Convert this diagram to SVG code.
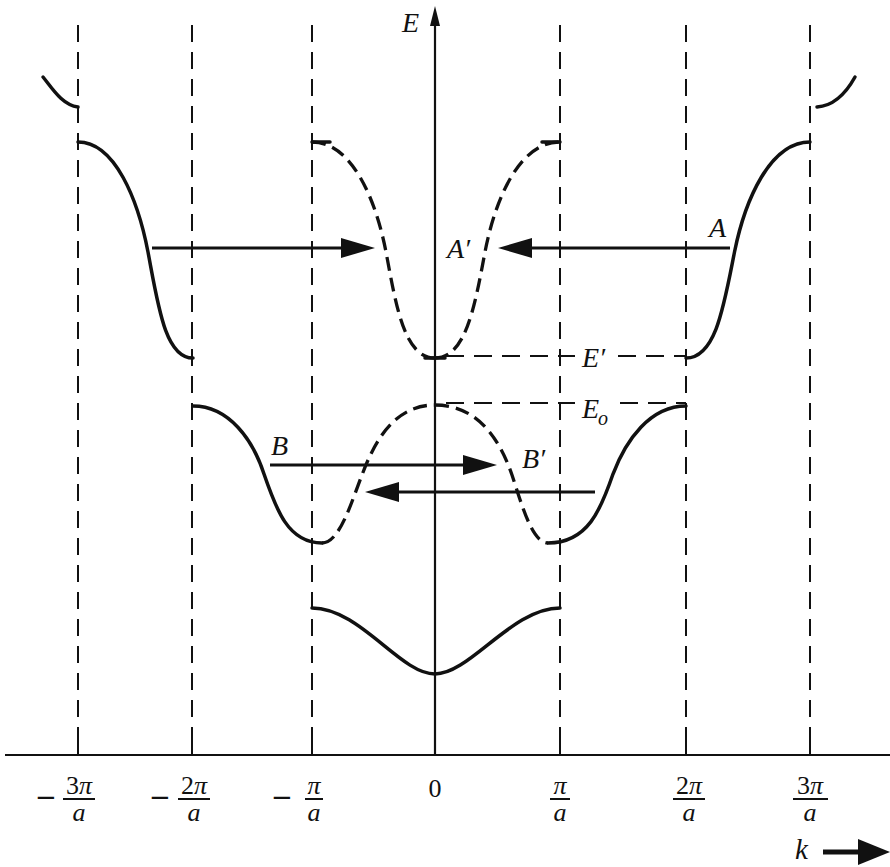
<svg xmlns="http://www.w3.org/2000/svg" width="890" height="867" viewBox="0 0 890 867">
<style>
  .grid { fill: none; stroke: #111; stroke-width: 2; stroke-dasharray: 17 10; }
  .tick { stroke: #111; stroke-width: 2; }
  .axis { stroke: #111; stroke-width: 2.2; fill: none; }
  .band { fill: none; stroke: #111; stroke-width: 3.5; stroke-linecap: round; }
  .bandd { fill: none; stroke: #111; stroke-width: 3.3; stroke-dasharray: 14 7; }
  .level { fill: none; stroke: #111; stroke-width: 2; stroke-dasharray: 18 10; }
  .arr { fill: none; stroke: #111; stroke-width: 3; }
  .lbl { font-family: "Liberation Serif", "DejaVu Serif", serif; font-style: italic; font-size: 28px; fill: #111; }
  .num { font-family: "Liberation Serif", "DejaVu Serif", serif; font-size: 26px; fill: #111; }
  .minus { font-family: "DejaVu Sans", "Liberation Sans", sans-serif; font-size: 26px; fill: #111; }
  .it { font-style: italic; }
  .bar { stroke: #111; stroke-width: 2; }
</style>
<defs>
  <marker id="head" viewBox="0 0 34 20" refX="24" refY="10" markerWidth="34" markerHeight="20" markerUnits="userSpaceOnUse" orient="auto">
    <path d="M0,0 L34,10 L0,20 Z" fill="#111"/>
  </marker>
</defs>
<rect width="890" height="867" fill="#ffffff"/>

<g id="grid">
  <line class="grid" x1="78" y1="25" x2="78" y2="745"/>
  <line class="grid" x1="192" y1="25" x2="192" y2="745"/>
  <line class="grid" x1="312" y1="25" x2="312" y2="745"/>
  <line class="grid" x1="560" y1="25" x2="560" y2="745"/>
  <line class="grid" x1="686" y1="25" x2="686" y2="745"/>
  <line class="grid" x1="810" y1="25" x2="810" y2="745"/>
</g>

<g id="axes">
  <line class="axis" x1="5" y1="755" x2="890" y2="755"/>
  <line class="axis" x1="435" y1="755" x2="435" y2="22"/>
  <path d="M430,26 L435,6 L440,26 Z" fill="#111"/>
  <line class="tick" x1="78" y1="744" x2="78" y2="755"/>
  <line class="tick" x1="192" y1="744" x2="192" y2="755"/>
  <line class="tick" x1="312" y1="744" x2="312" y2="755"/>
  <line class="tick" x1="560" y1="744" x2="560" y2="755"/>
  <line class="tick" x1="686" y1="744" x2="686" y2="755"/>
  <line class="tick" x1="810" y1="744" x2="810" y2="755"/>
  <line x1="823" y1="852" x2="862" y2="852" stroke="#111" stroke-width="5"/>
  <path d="M858,839 L890,852 L858,865 Z" fill="#111"/>
</g>

<g id="band4">
  <path class="band" d="M43,77 C52,88 62,105 78,107"/>
  <path class="band" d="M817,107 C832,106 845,95 855,77"/>
</g>

<g id="band3">
  <path class="band" d="M78,142 C115,142 138,200 148,252 C158,305 165,358 193,358"/>
  <path class="band" d="M686,358 C716,358 724,305 734.5,252 C745,200 770,142 810,142"/>
  <path class="bandd" d="M312,142 C352,142 376,200 386,252 C396,305 404,358 435,358"/>
  <path class="bandd" d="M435,358 C466,358 475,305 485,252 C495,200 519,142 560,142"/>
  <line class="band" x1="312" y1="142" x2="330" y2="142"/>
  <line class="band" x1="542" y1="142" x2="560" y2="142"/>
  <line class="band" x1="425" y1="358" x2="445" y2="358"/>
</g>

<g id="band2">
  <path class="band" d="M193,406 C229,406 253,440 264,474 C276,509 288,543 322,543"/>
  <path class="band" d="M686,406 C650,406 626,440 613,474 C601,509 588,543 548,543"/>
  <path class="bandd" d="M322,543 C340,543 352,500 362,475 C375,440 395,405 435,405"/>
  <path class="bandd" d="M435,405 C478,405 500,440 512,475 C522,505 532,543 548,543"/>
</g>

<g id="band1">
  <path class="band" d="M312,608 C360,608 400,674 435,674 C470,674 512,608 560,608"/>
</g>

<g id="levels">
  <line class="level" x1="446" y1="356" x2="575" y2="356"/>
  <line class="level" x1="618" y1="356" x2="686" y2="356"/>
  <line class="level" x1="446" y1="403" x2="575" y2="403"/>
  <line class="level" x1="620" y1="403" x2="686" y2="403"/>
</g>

<g id="connectors">
  <line class="arr" x1="152" y1="248" x2="365" y2="248" marker-end="url(#head)"/>
  <line class="arr" x1="730" y1="248" x2="508" y2="248" marker-end="url(#head)"/>
  <line class="arr" x1="270" y1="465" x2="487" y2="465" marker-end="url(#head)"/>
  <line class="arr" x1="595" y1="492" x2="375" y2="492" marker-end="url(#head)"/>
</g>

<g id="labels">
  <text class="lbl" x="402" y="32" font-size="30">E</text>
  <text class="lbl" x="447" y="258">A′</text>
  <text class="lbl" x="709" y="237">A</text>
  <text class="lbl" x="582" y="367">E′</text>
  <text class="lbl" x="582" y="418">E</text>
  <text class="lbl" x="598" y="425" style="font-size:20px">o</text>
  <text class="lbl" x="271" y="455">B</text>
  <text class="lbl" x="522" y="468">B′</text>
  <text class="lbl" x="795" y="859" style="font-size:29px">k</text>
</g>

<g id="ticklabels">
  <text class="minus" x="46" y="806" text-anchor="middle">−</text>
  <text class="num" x="79" y="794" text-anchor="middle">3<tspan class="it">π</tspan></text>
  <line class="bar" x1="63" y1="799" x2="95" y2="799"/>
  <text class="num it" x="79" y="821" text-anchor="middle">a</text>

  <text class="minus" x="160" y="806" text-anchor="middle">−</text>
  <text class="num" x="194" y="794" text-anchor="middle">2<tspan class="it">π</tspan></text>
  <line class="bar" x1="178" y1="799" x2="210" y2="799"/>
  <text class="num it" x="194" y="821" text-anchor="middle">a</text>

  <text class="minus" x="282" y="806" text-anchor="middle">−</text>
  <text class="num it" x="314" y="794" text-anchor="middle">π</text>
  <line class="bar" x1="305" y1="799" x2="323" y2="799"/>
  <text class="num it" x="314" y="821" text-anchor="middle">a</text>

  <text class="num" x="435" y="797" text-anchor="middle">0</text>

  <text class="num it" x="560" y="794" text-anchor="middle">π</text>
  <line class="bar" x1="550" y1="799" x2="570" y2="799"/>
  <text class="num it" x="560" y="821" text-anchor="middle">a</text>

  <text class="num" x="689" y="794" text-anchor="middle">2<tspan class="it">π</tspan></text>
  <line class="bar" x1="673" y1="799" x2="705" y2="799"/>
  <text class="num it" x="689" y="821" text-anchor="middle">a</text>

  <text class="num" x="810" y="794" text-anchor="middle">3<tspan class="it">π</tspan></text>
  <line class="bar" x1="793" y1="799" x2="828" y2="799"/>
  <text class="num it" x="810" y="821" text-anchor="middle">a</text>
</g>
</svg>
